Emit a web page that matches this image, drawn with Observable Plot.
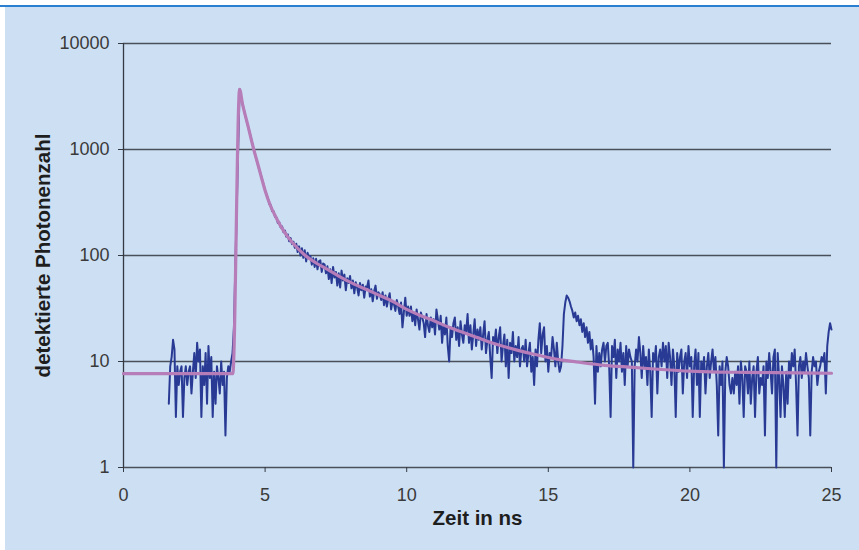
<!DOCTYPE html>
<html>
<head>
<meta charset="utf-8">
<script src="https://cdn.jsdelivr.net/npm/d3@7"></script>
<script src="https://cdn.jsdelivr.net/npm/@observablehq/plot@0.6"></script>
<style>
  html, body { margin: 0; padding: 0; background: #ffffff; }
  #wrap { position: relative; width: 859px; height: 550px; overflow: hidden; background: #ffffff; }
  #topline { position: absolute; left: 0; top: 5px; width: 859px; height: 2px; background: #2b7fd0; }
  #panel { position: absolute; left: 5px; top: 7px; width: 854px; height: 543px; background: #cddff3; }
  #chart { position: absolute; left: 0; top: 0; }
</style>
</head>
<body>
<div id="wrap">
  <div id="topline"></div>
  <div id="panel"></div>
  <div id="chart"></div>
</div>
<script>
// Axis ticks
const xTicks = [0, 5, 10, 15, 20, 25];
const yTicks = [1, 10, 100, 1000, 10000];
const xLabel = "Zeit in ns";
const yLabel = "detektierte Photonenzahl";

// Measured photon counts, channels from t0 in steps of dt (ns)
const t0 = 1.6;
const dt = 0.05;
const counts = [
  4, 9, 11, 16, 13, 3, 9, 6, 8, 9,
  3, 7, 9, 6, 8, 9, 5, 8, 12, 7,
  15, 10, 13, 3, 9, 6, 12, 4, 14, 7,
  11, 3, 8, 4, 9, 7, 5, 10, 6, 8,
  2, 7, 9, 8, 10, 12, 21, 80, 290, 1050,
  3720, 3150, 2720, 2380, 2080, 1850, 1640, 1460, 1290, 1130,
  1000, 890, 800, 715, 640, 575, 515, 462, 412, 375,
  345, 305, 298, 262, 262, 232, 228, 203, 206, 184,
  188, 166, 172, 150, 158, 136, 146, 128, 135, 118,
  129, 108, 122, 100, 117, 95, 112, 88, 106, 97,
  99, 82, 94, 78, 93, 74, 88, 90, 70, 84,
  82, 68, 79, 60, 74, 55, 78, 62, 70, 52,
  68, 50, 72, 58, 66, 47, 61, 55, 64, 49,
  58, 44, 56, 50, 42, 55, 47, 53, 40, 51,
  50, 58, 41, 48, 37, 46, 52, 39, 45, 43,
  38, 45, 34, 42, 33, 39, 44, 31, 37, 35,
  30, 38, 33, 28, 36, 21, 29, 40, 27, 33,
  27, 33, 24, 29, 22, 31, 25, 20, 29, 26,
  23, 17, 28, 22, 19, 26, 21, 25, 18, 31,
  25, 20, 27, 15, 22, 18, 26, 14, 10, 21,
  17, 23, 26, 16, 21, 14, 24, 18, 15, 22,
  19, 28, 15, 22, 13, 18, 25, 14, 20, 16,
  21, 13, 18, 24, 12, 16, 19, 11, 7, 17,
  15, 20, 12, 17, 21, 10, 14, 18, 9, 16,
  7, 15, 12, 19, 10, 14, 11, 17, 9, 13,
  14, 10, 16, 9, 12, 15, 8, 11, 6, 13,
  9, 16, 23, 12, 18, 21, 10, 14, 8, 12,
  11, 17, 13, 9, 15, 10, 8, 9, 14, 28,
  36, 42, 40, 37, 33, 30, 26, 29, 24, 27,
  22, 25, 19, 23, 17, 21, 15, 19, 13, 16,
  11, 4, 14, 8, 12, 9, 13, 15, 10, 14,
  15, 9, 3, 14, 11, 16, 7, 13, 10, 15,
  8, 12, 6, 14, 9, 13, 11, 10, 1, 9,
  13, 10, 17, 12, 7, 14, 9, 11, 6, 13,
  8, 3, 12, 10, 14, 5, 11, 13, 9, 15,
  10, 14, 7, 15, 11, 6, 13, 9, 3, 12,
  8, 11, 13, 5, 10, 12, 7, 14, 9, 11,
  3, 9, 13, 6, 12, 3, 10, 8, 11, 5,
  9, 12, 7, 10, 13, 8, 11, 6, 2, 9,
  6, 10, 1, 8, 11, 9, 6, 5, 7, 5,
  8, 6, 9, 4, 10, 7, 3, 9, 8, 5,
  10, 4, 7, 9, 3, 8, 11, 5, 7, 6,
  9, 2, 10, 7, 12, 8, 5, 11, 13, 1,
  12, 7, 3, 9, 6, 3, 8, 4, 10, 7,
  12, 9, 13, 6, 2, 9, 11, 7, 10, 8,
  12, 9, 7, 2, 8, 11, 9, 10, 6, 8,
  9, 11, 10, 12, 5, 14, 19, 23, 20
];

// Fitted decay curve (time in ns, counts)
const fitT = [0, 3.86, 4.1, 4.2, 4.3, 4.4, 4.5, 4.6, 4.7, 4.8, 4.9, 5.0, 5.2, 5.4, 5.6, 5.8, 6.0, 6.4, 6.8, 7.2, 7.6, 8.0, 8.6, 9.0, 9.5, 10.0, 10.5, 11.0, 11.5, 12.0, 12.5, 13.0, 13.5, 14.0, 14.5, 15.0, 15.5, 16.0, 17.0, 18.0, 19.0, 20.0, 21.0, 22.0, 23.0, 25.0];
const fitN = [7.7, 7.7, 3700, 2700, 2100, 1650, 1280, 1000, 800, 640, 510, 410, 290, 225, 180, 150, 129, 101, 85, 74, 64, 56, 47.5, 42.5, 37, 31, 27, 24, 21, 18.8, 16.8, 15, 13.7, 12.6, 11.7, 10.9, 10.3, 9.9, 9.2, 8.8, 8.4, 8.1, 7.95, 7.9, 7.85, 7.75];

const measured = counts.map((n, i) => ({t: Math.round((t0 + i * dt) * 100) / 100, n}));
const fit = fitT.map((t, i) => ({t, n: fitN[i]}));

const chart = Plot.plot({
  width: 859,
  height: 550,
  marginLeft: 123,
  marginRight: 28,
  marginTop: 43,
  marginBottom: 83,
  x: {domain: [0, 25]},
  y: {type: "log", domain: [1, 10000]},
  style: {
    background: "transparent",
    fontFamily: "'Liberation Sans', Arial, sans-serif",
    fontSize: "18px",
    color: "#3a3a3a",
    overflow: "visible"
  },
  marks: [
    Plot.gridY(yTicks, {stroke: "#4a5059", strokeOpacity: 1, strokeWidth: 1.3}),
    Plot.ruleX([0], {stroke: "#333a44", strokeWidth: 1.3}),
    Plot.axisY(yTicks, {tickSize: 5, tickPadding: 9, tickFormat: d => String(d), label: null, stroke: "#333a44", fill: "#3a3a3a"}),
    Plot.axisX(xTicks, {tickSize: 5, tickPadding: 16, tickFormat: d => String(d), label: null, stroke: "#333a44", fill: "#3a3a3a"}),
    Plot.line(measured, {x: "t", y: "n", stroke: "#283a94", strokeWidth: 2}),
    Plot.line(fit, {x: "t", y: "n", stroke: "#b77db8", strokeWidth: 3.2, curve: "monotone-x"}),
    Plot.text([yLabel], {text: d => d, frameAnchor: "left", textAnchor: "middle", dx: -80, rotate: -90, fontWeight: "bold", fontSize: 20.5, fill: "#1e1e1e"}),
    Plot.text([xLabel], {text: d => d, frameAnchor: "bottom", textAnchor: "middle", dy: 57, fontWeight: "bold", fontSize: 20.5, fill: "#1e1e1e"})
  ]
});

document.getElementById("chart").appendChild(chart);
</script>
</body>
</html>
